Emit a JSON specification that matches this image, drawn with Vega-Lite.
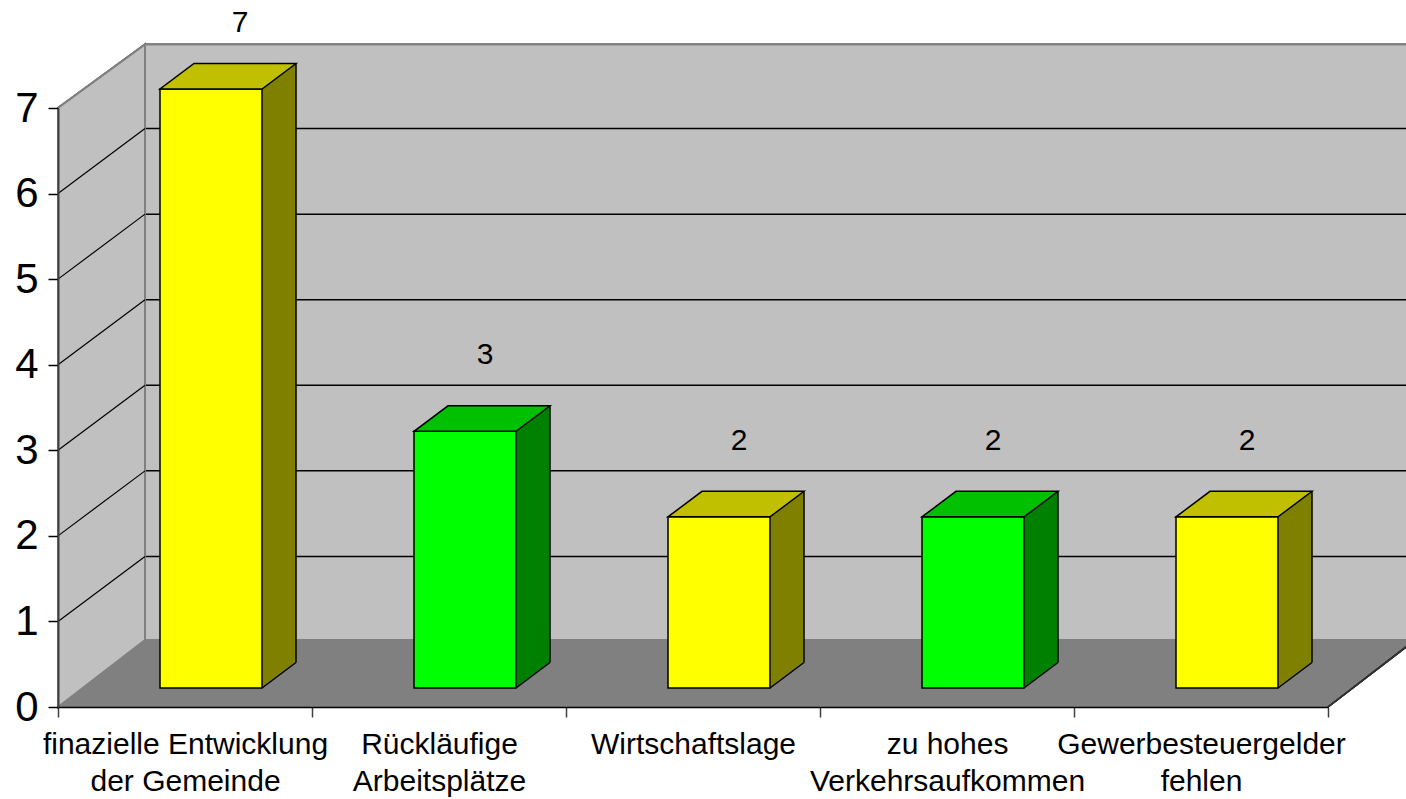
{
  "$schema": "https://vega.github.io/schema/vega-lite/v6.json",
  "width": 1270,
  "height": 599,
  "autosize": {"type": "none"},
  "padding": {"left": 58, "top": 108, "right": 78, "bottom": 92},
  "background": "white",
  "config": {
    "view": {"stroke": null},
    "font": "Liberation Sans",
    "axis": {"grid": false}
  },
  "datasets": {
    "gruende": [
      {"kategorie": "finazielle Entwicklung|der Gemeinde", "anzahl": 7},
      {"kategorie": "Rückläufige|Arbeitsplätze", "anzahl": 3},
      {"kategorie": "Wirtschaftslage", "anzahl": 2},
      {"kategorie": "zu hohes|Verkehrsaufkommen", "anzahl": 2},
      {"kategorie": "Gewerbesteuergelder|fehlen", "anzahl": 2}
    ],
    "stufen": [
      {"stufe": 1}, {"stufe": 2}, {"stufe": 3}, {"stufe": 4}, {"stufe": 5}, {"stufe": 6}
    ]
  },
  "data": {"name": "gruende"},
  "resolve": {"scale": {"color": "independent"}},
  "layer": [
    {
      "mark": {"type": "rect", "fill": "#C0C0C0", "stroke": "#808080", "strokeWidth": 2, "xOffset": 87, "x2Offset": 87, "yOffset": -63.5, "y2Offset": -67},
      "encoding": {
        "x": {"value": 0},
        "x2": {"value": "width"},
        "y": {"datum": 7, "type": "quantitative", "title": null, "scale": {"domain": [0, 7]}},
        "y2": {"datum": 0}
      }
    },
    {
      "data": {"name": "stufen"},
      "mark": {"type": "rule", "stroke": "black", "strokeWidth": 1.5, "xOffset": 87, "x2Offset": 87, "yOffset": -65},
      "encoding": {
        "x": {"value": 0},
        "x2": {"value": "width"},
        "y": {"field": "stufe", "type": "quantitative", "title": null}
      }
    },
    {
      "mark": {"type": "point", "shape": "M0,0 L0,-599 L87,-662.5 L87,-67 Z", "size": 4, "filled": true, "fill": "#C0C0C0", "stroke": "#808080", "strokeWidth": 2, "opacity": 1},
      "encoding": {
        "x": {"value": 0},
        "y": {"datum": 0, "type": "quantitative", "title": null}
      }
    },
    {
      "mark": {"type": "point", "shape": "M0,0 L87,-67 L1357,-67 L1270,0 Z", "size": 4, "filled": true, "fill": "#808080", "strokeWidth": 0, "opacity": 1},
      "encoding": {
        "x": {"value": 0},
        "y": {"datum": 0, "type": "quantitative", "title": null}
      }
    },
    {
      "mark": {"type": "point", "shape": "M1270,0 L1357,-67", "size": 4, "filled": false, "stroke": "#303030", "strokeWidth": 1.5, "opacity": 1},
      "encoding": {
        "x": {"value": 0},
        "y": {"datum": 0, "type": "quantitative", "title": null}
      }
    },
    {
      "data": {"name": "stufen"},
      "mark": {"type": "rule", "stroke": "black", "strokeWidth": 1.2, "x2Offset": 87, "y2Offset": -65},
      "encoding": {
        "x": {"value": 0},
        "x2": {"value": 0},
        "y": {"field": "stufe", "type": "quantitative", "title": null},
        "y2": {"field": "stufe"}
      }
    },
    {
      "mark": {"type": "bar", "width": 34, "xOffset": 94, "yOffset": -44.5, "y2Offset": -44.5, "strokeWidth": 0, "opacity": 1},
      "encoding": {
        "x": {"field": "kategorie", "type": "nominal", "sort": null, "title": null, "scale": {"paddingInner": 0, "paddingOuter": 0}},
        "y": {"field": "anzahl", "type": "quantitative", "title": null},
        "y2": {"datum": 0},
        "color": {"field": "kategorie", "type": "nominal", "sort": null, "legend": null, "scale": {"range": ["#808000", "#008000", "#808000", "#008000", "#808000"]}}
      }
    },
    {
      "mark": {"type": "point", "shape": "M0,0 L0,-27.5 L34,-27.5 L34,-25.5 Z", "size": 4, "filled": true, "strokeWidth": 0, "opacity": 1, "xOffset": 77, "yOffset": -19},
      "encoding": {
        "x": {"field": "kategorie", "type": "nominal", "sort": null, "title": null},
        "y": {"datum": 0, "type": "quantitative", "title": null},
        "color": {"field": "kategorie", "type": "nominal", "sort": null, "legend": null, "scale": {"range": ["#808000", "#008000", "#808000", "#008000", "#808000"]}}
      }
    },
    {
      "mark": {"type": "bar", "width": 102, "xOffset": 26, "yOffset": -19, "y2Offset": -19, "stroke": "black", "strokeWidth": 1.5, "opacity": 1},
      "encoding": {
        "x": {
          "field": "kategorie", "type": "nominal", "sort": null, "title": null,
          "axis": {
            "title": null,
            "labelExpr": "datum.value ? split(datum.value, '|') : ''",
            "labelFont": "Liberation Sans",
            "labelFontSize": 30,
            "labelColor": "black",
            "labelAngle": 0,
            "labelAlign": "center",
            "labelPadding": 12,
            "labelLineHeight": 37,
            "labelLimit": 0,
            "labelOverlap": false,
            "labelBaseline": "top",
            "tickBand": "extent",
            "tickSize": 10,
            "tickColor": "#404040",
            "tickWidth": 1.5,
            "domainColor": "black",
            "domainWidth": 1.5,
            "zindex": 1
          }
        },
        "y": {
          "field": "anzahl", "type": "quantitative", "title": null,
          "axis": {
            "title": null,
            "values": [0, 1, 2, 3, 4, 5, 6, 7],
            "format": "d",
            "labelFont": "Liberation Sans",
            "labelFontSize": 42,
            "labelColor": "black",
            "labelPadding": 10,
            "tickSize": 10,
            "tickColor": "black",
            "tickWidth": 1.5,
            "domainColor": "#404040",
            "domainWidth": 2,
            "grid": false,
            "zindex": 1
          }
        },
        "y2": {"datum": 0},
        "color": {"field": "kategorie", "type": "nominal", "sort": null, "legend": null, "scale": {"range": ["#FFFF00", "#00FF00", "#FFFF00", "#00FF00", "#FFFF00"]}}
      }
    },
    {
      "mark": {"type": "point", "shape": "M-51,0 L51,0 L85,-25.5 L-17,-25.5 Z", "size": 4, "filled": true, "stroke": "black", "strokeWidth": 1.5, "opacity": 1, "xOffset": 26, "yOffset": -19},
      "encoding": {
        "x": {"field": "kategorie", "type": "nominal", "sort": null, "title": null},
        "y": {"field": "anzahl", "type": "quantitative", "title": null},
        "color": {"field": "kategorie", "type": "nominal", "sort": null, "legend": null, "scale": {"range": ["#C0C000", "#00C000", "#C0C000", "#00C000", "#C0C000"]}}
      }
    },
    {
      "mark": {"type": "rule", "stroke": "black", "strokeWidth": 1.5, "xOffset": 111, "yOffset": -44.5, "y2Offset": -44.5},
      "encoding": {
        "x": {"field": "kategorie", "type": "nominal", "sort": null, "title": null},
        "y": {"field": "anzahl", "type": "quantitative", "title": null},
        "y2": {"datum": 0}
      }
    },
    {
      "mark": {"type": "point", "shape": "M0,0 L34,-25.5", "size": 4, "filled": false, "stroke": "black", "strokeWidth": 1.5, "opacity": 1, "xOffset": 77, "yOffset": -19},
      "encoding": {
        "x": {"field": "kategorie", "type": "nominal", "sort": null, "title": null},
        "y": {"datum": 0, "type": "quantitative", "title": null}
      }
    },
    {
      "transform": [{"filter": "datum.anzahl < 7"}],
      "mark": {"type": "text", "font": "Liberation Sans", "fontSize": 30, "color": "black", "align": "center", "baseline": "alphabetic", "xOffset": 46, "yOffset": -86},
      "encoding": {
        "x": {"field": "kategorie", "type": "nominal", "sort": null, "title": null},
        "y": {"field": "anzahl", "type": "quantitative", "title": null},
        "text": {"field": "anzahl", "type": "quantitative"}
      }
    },
    {
      "transform": [{"filter": "datum.anzahl >= 7"}],
      "mark": {"type": "text", "font": "Liberation Sans", "fontSize": 30, "color": "black", "align": "center", "baseline": "alphabetic", "xOffset": 55, "yOffset": -76},
      "encoding": {
        "x": {"field": "kategorie", "type": "nominal", "sort": null, "title": null},
        "y": {"field": "anzahl", "type": "quantitative", "title": null},
        "text": {"field": "anzahl", "type": "quantitative"}
      }
    }
  ]
}
